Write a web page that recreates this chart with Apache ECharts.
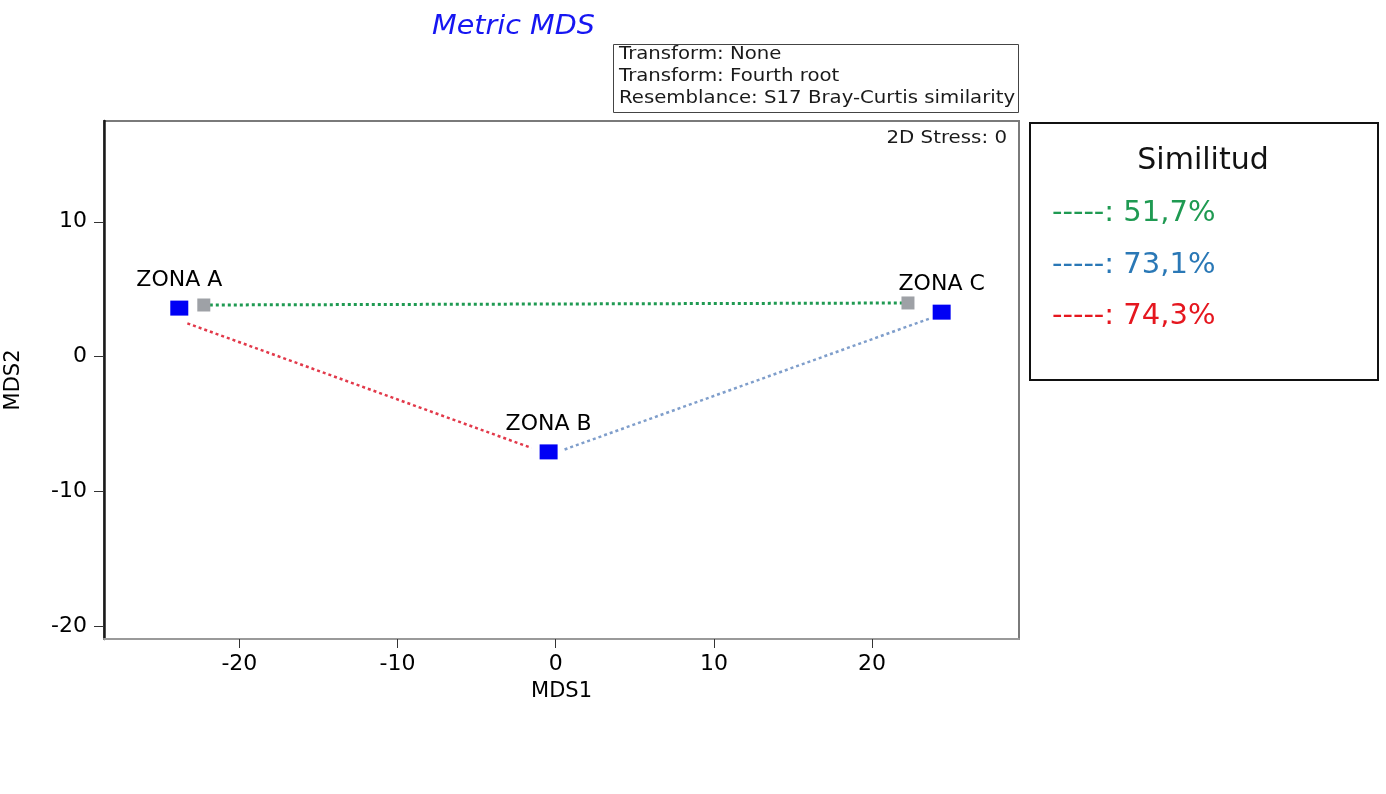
<!DOCTYPE html>
<html>
<head>
<meta charset="utf-8">
<script src="https://cdn.jsdelivr.net/npm/echarts@6/dist/echarts.min.js"></script>
<style>
  html, body { margin: 0; padding: 0; background: #fff; }
  #chart { width: 1386px; height: 794px; }
</style>
</head>
<body>
<div id="chart"></div>
<script>
// ---- data ----
const zoneNames = ['ZONA A', 'ZONA B', 'ZONA C'];
const zoneMds1 = [-23.8, -0.45, 24.4];
const zoneMds2 = [3.6, -7.06, 3.3];

const grayMds1 = [-22.25, 22.27];
const grayMds2 = [3.83, 3.98];

// dotted similarity links (end points)
const greenLineX = [-22.25, 22.27];
const greenLineY = [3.83, 3.98];
const redLineX = [-23.29, -1.53];
const redLineY = [2.47, -6.77];
const blueLineX = [0.56, 23.72];
const blueLineY = [-6.88, 2.86];

const similitudValues = ['51,7%', '73,1%', '74,3%'];
const similitudColors = ['#1f9a52', '#2a78b6', '#e5171f'];

const xTicks = [-20, -10, 0, 10, 20];
const yTicks = [-20, -10, 0, 10];
const xRange = [-28.56, 29.29];
const yRange = [-20.93, 17.47];

const infoLines = ['Transform: None', 'Transform: Fourth root', 'Resemblance: S17 Bray-Curtis similarity'];

// ---- build ----
const pairs = (xs, ys) => xs.map((x, i) => [x, ys[i]]);
const FONT = 'DejaVu Sans';

const chart = echarts.init(document.getElementById('chart'), null, { renderer: 'canvas' });

const graphics = [
  // title
  { type: 'text', x: 432, y: 27, scaleX: 1.1, style: { text: 'Metric MDS', fontFamily: FONT, fontSize: 26, fontStyle: 'italic', fill: '#1616f2', align: 'left', verticalAlign: 'middle' } },
  // info box
  { type: 'rect', shape: { x: 613.5, y: 44.5, width: 405, height: 68 }, style: { fill: 'none', stroke: '#444', lineWidth: 1 } },
  // 2D stress
  { type: 'text', x: 1007, y: 138, scaleX: 1.1, style: { text: '2D Stress: 0', fontFamily: FONT, fontSize: 18, fill: '#1a1a1a', align: 'right', verticalAlign: 'middle' } },
  // legend box
  { type: 'rect', shape: { x: 1030, y: 123, width: 348, height: 257 }, style: { fill: '#fff', stroke: '#111', lineWidth: 2 } },
  { type: 'text', x: 1203, y: 161, style: { text: 'Similitud', fontFamily: FONT, fontSize: 30, fill: '#111', align: 'center', verticalAlign: 'middle' } }
];
infoLines.forEach((t, i) => {
  graphics.push({ type: 'text', x: 619, y: 55 + i * 22, scaleX: 1.16, style: { text: t, fontFamily: FONT, fontSize: 17, fill: '#1a1a1a', align: 'left', verticalAlign: 'middle' } });
});
similitudValues.forEach((v, i) => {
  graphics.push({ type: 'text', x: 1052, y: 213.5 + i * 51.5, style: { text: '-----: ' + v, fontFamily: FONT, fontSize: 29, fill: similitudColors[i], align: 'left', verticalAlign: 'middle' } });
});

const dotted = [3, 3];

const option = {
  animation: false,
  backgroundColor: '#ffffff',
  grid: { left: 104, right: 367, top: 121, bottom: 155, show: true, borderColor: '#7a7a7a', borderWidth: 2, backgroundColor: 'transparent', containLabel: false, outerBoundsMode: 'none' },
  xAxis: {
    type: 'value', min: xRange[0], max: xRange[1],
    name: 'MDS1', nameLocation: 'middle', nameGap: 42,
    nameTextStyle: { fontFamily: FONT, fontSize: 21, color: '#000' },
    axisLine: { show: true, onZero: false, lineStyle: { color: '#9a9a9a', width: 2 } },
    axisTick: { show: true, customValues: xTicks, length: 9, lineStyle: { color: '#333', width: 1 } },
    axisLabel: { customValues: xTicks, margin: 14, fontFamily: FONT, fontSize: 22, color: '#000' },
    splitLine: { show: false }
  },
  yAxis: {
    type: 'value', min: yRange[0], max: yRange[1],
    name: 'MDS2', nameLocation: 'middle', nameGap: 80, nameRotate: 90,
    nameTextStyle: { fontFamily: FONT, fontSize: 21, color: '#000' },
    axisLine: { show: true, onZero: false, lineStyle: { color: '#1a1a1a', width: 2.5 } },
    axisTick: { show: true, customValues: yTicks, length: 10, lineStyle: { color: '#333', width: 1 } },
    axisLabel: { customValues: yTicks, margin: 17, fontFamily: FONT, fontSize: 22, color: '#000' },
    splitLine: { show: false }
  },
  series: [
    { type: 'line', data: pairs(greenLineX, greenLineY), symbol: 'none', lineStyle: { color: '#1f9a52', width: 3, type: dotted }, z: 2 },
    { type: 'line', data: pairs(redLineX, redLineY), symbol: 'none', lineStyle: { color: '#e2394a', width: 2.5, type: dotted }, z: 2 },
    { type: 'line', data: pairs(blueLineX, blueLineY), symbol: 'none', lineStyle: { color: '#7f9ecb', width: 2.5, type: dotted }, z: 2 },
    {
      type: 'scatter', data: pairs(grayMds1, grayMds2), symbol: 'rect', symbolSize: [13, 13],
      itemStyle: { color: '#9ea1a6', opacity: 1 }, z: 3
    },
    {
      type: 'scatter',
      data: zoneNames.map((n, i) => ({ name: n, value: [zoneMds1[i], zoneMds2[i]] })),
      symbol: 'rect', symbolSize: [18, 15],
      itemStyle: { color: '#0000f5', opacity: 1 },
      label: { show: true, position: 'top', distance: 9, formatter: p => p.name, fontFamily: FONT, fontSize: 22, color: '#000', opacity: 1 },
      z: 4
    }
  ],
  graphic: graphics
};

chart.setOption(option);
</script>
</body>
</html>
